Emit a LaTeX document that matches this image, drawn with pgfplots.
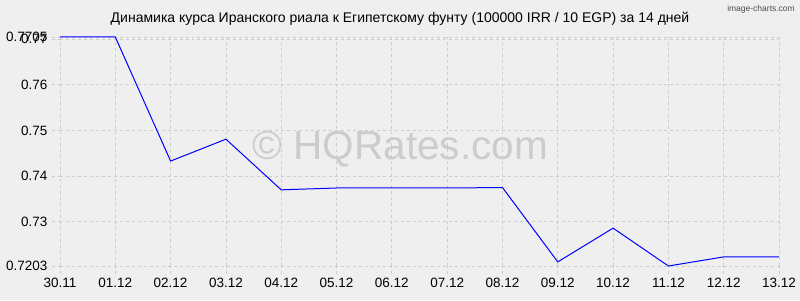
\documentclass[border=0pt]{standalone}
\usepackage{pgfplots}
\pgfplotsset{compat=1.18}
\usepackage{fontspec}
\setmainfont{Liberation Sans}
\definecolor{bg}{HTML}{EFEFEF}
\definecolor{gridc}{HTML}{CCCCCC}
\definecolor{wm}{HTML}{CCCCCC}
\begin{document}
\begin{tikzpicture}[x=1bp,y=1bp]
\fill[bg] (0,0) rectangle (800,300);
\node[font=\fontsize{14bp}{16bp}\selectfont] at (400,281) {Динамика курса Иранского риала к Египетскому фунту (100000 IRR / 10 EGP) за 14 дней};
\node[font=\fontsize{8.5bp}{10bp}\selectfont, text=black!70, anchor=east, inner sep=0pt] at (795,291) {image-charts.com};
\begin{axis}[
  at={(60bp,34bp)}, anchor=south west,
  scale only axis, width=719bp, height=229bp,
  xmin=0, xmax=13, ymin=0.7203, ymax=0.7705,
  axis line style={draw=none},
  xtick={0,...,13},
  xticklabels={30.11,01.12,02.12,03.12,04.12,05.12,06.12,07.12,08.12,09.12,10.12,11.12,12.12,13.12},
  ytick={0.7203,0.73,0.74,0.75,0.76,0.77,0.7705},
  yticklabels={0.7203,0.73,0.74,0.75,0.76,0.77,0.7705},
  grid=major,
  major grid style={gridc, dashed, line width=0.8bp},
  tick style={gridc, dashed, line width=0.8bp},
  major tick length=8bp,
  tick align=outside,
  xtick pos=bottom, ytick pos=left,
  /pgf/number format/assume math mode=true,
  tick label style={font=\fontsize{13.5bp}{15bp}\selectfont, text=black},
  xticklabel style={yshift=-1bp},
  yticklabel style={xshift=-1bp},
  clip=false,
]
\node[font=\fontsize{40.5bp}{44bp}\selectfont, text=wm] at (axis cs:6.15,0.7458) {© HQRates.com};
\addplot[blue, line width=1bp] coordinates {
(0,0.7705) (1,0.7705) (2,0.7433) (3,0.7481) (4,0.7370) (5,0.7374) (6,0.7374) (7,0.7374) (8,0.7375) (9,0.7212) (10,0.7286) (11,0.7203) (12,0.7223) (13,0.7223)
};
\end{axis}
\end{tikzpicture}
\end{document}
